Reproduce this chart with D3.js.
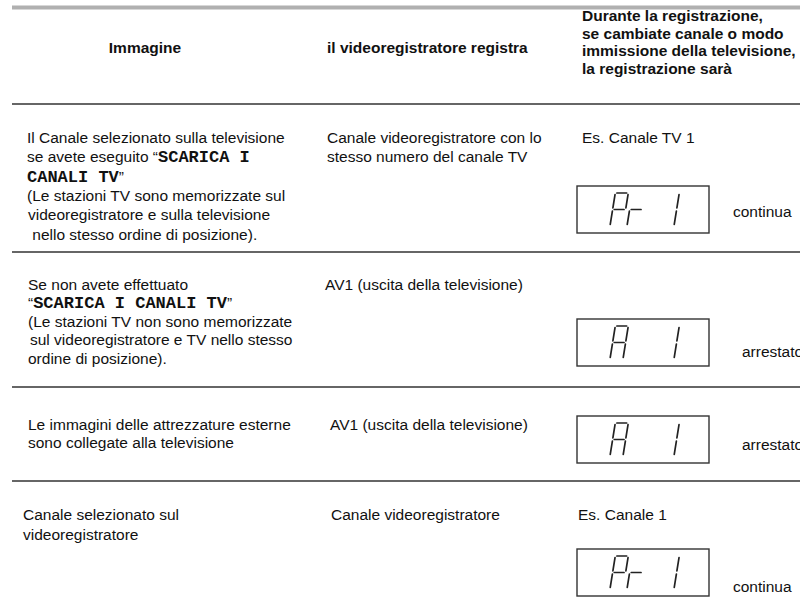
<!DOCTYPE html>
<html><head><meta charset="utf-8">
<script src="https://cdn.jsdelivr.net/npm/d3@7"></script>
<style>body{margin:0;background:#fff}svg{display:block}</style>
</head><body>
<script>
// ---------- data ----------
const headerCol1 = "Immagine";
const headerCol2 = "il videoregistratore registra";
const headerCol3 = ["Durante la registrazione,", "se cambiate canale o modo", "immissione della televisione,", "la registrazione sarà"];
// text between |...| is set in bold monospace
const imageLines = [
  ["Il Canale selezionato sulla televisione", "se avete eseguito “|SCARICA I|", "|CANALI TV|”", "(Le stazioni TV sono memorizzate sul", "videoregistratore e sulla televisione", " nello stesso ordine di posizione)."],
  ["Se non avete effettuato", "“|SCARICA I CANALI TV|”", "(Le stazioni TV non sono memorizzate", "sul videoregistratore e TV nello stesso", "ordine di posizione)."],
  ["Le immagini delle attrezzature esterne", "sono collegate alla televisione"],
  ["Canale selezionato sul", "videoregistratore"]
];
const recorderLines = [
  ["Canale videoregistratore con lo", "stesso numero del canale TV"],
  ["AV1 (uscita della televisione)"],
  ["AV1 (uscita della televisione)"],
  ["Canale videoregistratore"]
];
const exampleText = ["Es. Canale TV 1", "", "", "Es. Canale 1"];
const displayText = ["Pr 1", "A  1", "A  1", "Pr 1"];
const statusText = ["continua", "arrestato", "arrestato", "continua"];

// ---------- layout ----------
const W = 800, H = 613;
const FONT = "'Liberation Sans', Arial, Helvetica, sans-serif";
const MONO = "'Liberation Mono', 'Courier New', monospace";
const FS = 15.5;
const rowLayout = [
  {text: 143, lh: 19.3, col1x: [27,27,27,27,28,28], col2x: 327, box: 186, status: 217},
  {text: 290, lh: 18.4, col1x: [28,28,28,30,28], col2x: 325, box: 319, status: 357},
  {text: 430, lh: 18.4, col1x: [28,28], col2x: 330, box: 416, status: 450},
  {text: 520, lh: 19.5, col1x: [23,23], col2x: 331, box: 549, status: 592}
];
const separators = [104, 252, 387, 481];
const col3x = 582, boxX = 577, boxW = 132, boxH = 47, statusX = 733;

const svg = d3.select("body").append("svg").attr("width", W).attr("height", H)
  .style("background", "#fff");

// top rule
svg.append("line").attr("x1", 12).attr("x2", W).attr("y1", 7.5).attr("y2", 7.5)
  .attr("stroke", "#b0b0b0").attr("stroke-width", 4);
// separators
svg.selectAll("line.sep").data(separators).join("line").attr("class", "sep")
  .attr("x1", 12).attr("x2", W).attr("y1", d => d).attr("y2", d => d)
  .attr("stroke", "#666").attr("stroke-width", 2);

// header
const hdr = svg.append("g").attr("font-family", FONT).attr("font-weight", "bold")
  .attr("font-size", FS).attr("fill", "#111");
hdr.append("text").attr("x", 145).attr("y", 53).attr("text-anchor", "middle").text(headerCol1);
hdr.append("text").attr("x", 327).attr("y", 53).text(headerCol2);
const hy = d3.scaleLinear().domain([0, 1]).range([21, 38.7]);
hdr.selectAll("text.h3").data(headerCol3).join("text").attr("class", "h3")
  .attr("x", col3x).attr("y", (d, i) => hy(i)).text(d => d);

// body
const body = svg.append("g").attr("font-family", FONT).attr("font-size", FS).attr("fill", "#111");
imageLines.forEach((lines, r) => {
  const L = rowLayout[r];
  const yScale = d3.scaleLinear().domain([0, 1]).range([L.text, L.text + L.lh]);
  const t = body.selectAll(null).data(lines).join("text")
    .attr("x", (d, i) => L.col1x[i]).attr("y", (d, i) => yScale(i))
    .attr("xml:space", "preserve");
  t.each(function(d) {
    const parts = d.split("|");
    const sel = d3.select(this);
    parts.forEach((p, k) => {
      if (!p) return;
      const ts = sel.append("tspan").text(p);
      if (k % 2 === 1) ts.attr("font-family", MONO).attr("font-weight", "bold").attr("font-size", 17);
    });
  });
});
recorderLines.forEach((lines, r) => {
  const L = rowLayout[r];
  const yScale = d3.scaleLinear().domain([0, 1]).range([L.text, L.text + L.lh]);
  body.selectAll(null).data(lines).join("text")
    .attr("x", L.col2x).attr("y", (d, i) => yScale(i)).text(d => d);
});
body.selectAll("text.ex").data(exampleText).join("text").attr("class", "ex")
  .attr("x", (d, i) => i === 3 ? col3x - 4 : col3x).attr("y", (d, i) => rowLayout[i].text).text(d => d);
body.selectAll("text.st").data(statusText).join("text").attr("class", "st")
  .attr("x", (d, i) => d === "arrestato" ? statusX + 9 : statusX).attr("y", (d, i) => rowLayout[i].status).text(d => d);

// seven-segment displays
const SEG = {P: "abfge", r: "ge", A: "abcefg", "1": "bc", " ": ""};
const cellW = 13, cellPitch = 17, digH = 33, slant = 0.16, gap = 1.6;
function segLine(seg, x0, y0) {
  const w = cellW, h = digH, g = gap;
  const P = (x, y) => [x0 + x + slant * (h - y), y0 + y];
  const m = {
    a: [P(g, 0), P(w - g, 0)], b: [P(w, g), P(w, h / 2 - g)], c: [P(w, h / 2 + g), P(w, h - g)],
    d: [P(g, h), P(w - g, h)], e: [P(0, h / 2 + g), P(0, h - g)], f: [P(0, g), P(0, h / 2 - g)],
    g: [P(g, h / 2), P(w - g, h / 2)]
  };
  return m[seg];
}
const disp = svg.append("g");
displayText.forEach((str, r) => {
  const by = rowLayout[r].box;
  disp.append("rect").attr("x", boxX).attr("y", by).attr("width", boxW).attr("height", boxH)
    .attr("fill", "none").attr("stroke", "#333").attr("stroke-width", 1.4);
  const cellX = d3.scaleLinear().domain([0, 1]).range([boxX + 33, boxX + 33 + cellPitch]);
  const segs = [];
  str.split("").forEach((ch, k) => {
    (SEG[ch] || "").split("").forEach(s => segs.push(segLine(s, cellX(k), by + 7)));
  });
  disp.selectAll(null).data(segs).join("path")
    .attr("d", d => d3.line()(d)).attr("stroke", "#222").attr("stroke-width", 1.7)
    .attr("stroke-linecap", "round").attr("fill", "none");
});
</script>
</body></html>
